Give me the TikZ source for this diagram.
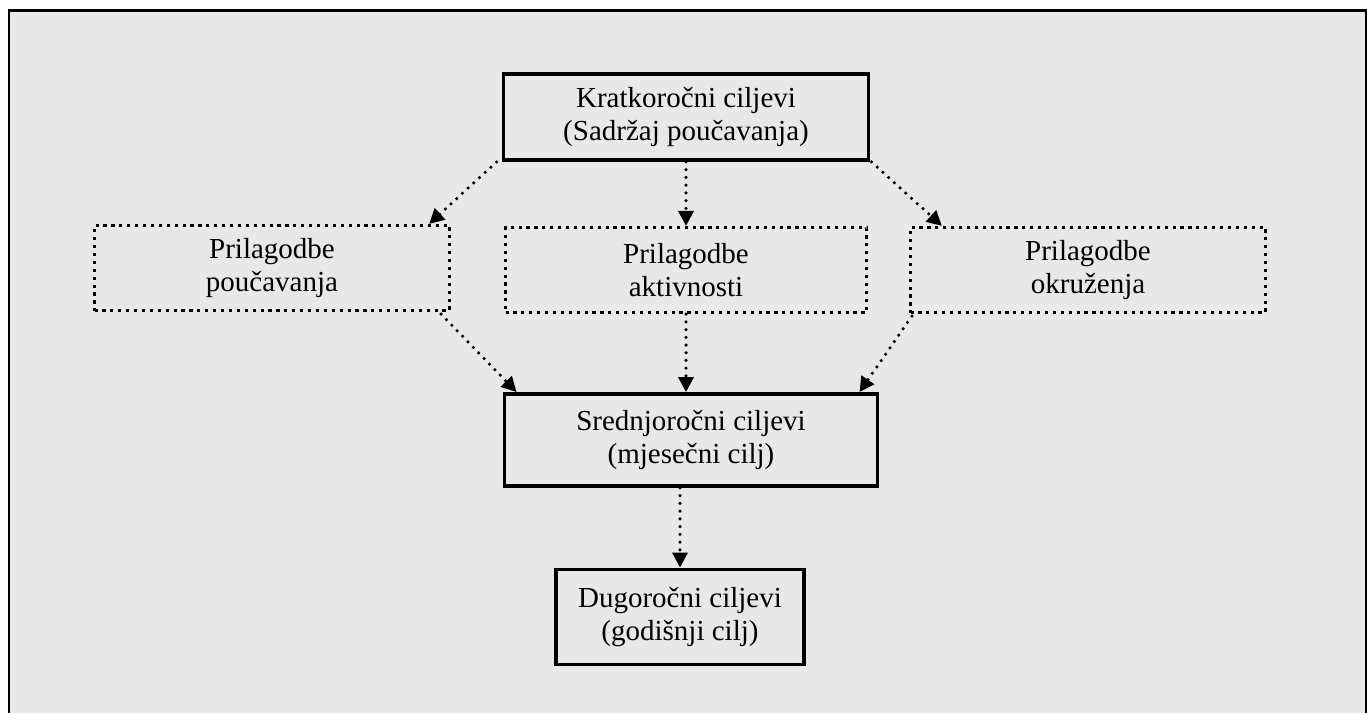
\documentclass[tikz,border=0pt]{standalone}
\usepackage{fontspec}
\setmainfont{Liberation Serif}
\usepackage{tikz}
\definecolor{panel}{RGB}{232,232,232}
\usetikzlibrary{arrows.meta}
\tikzstyle{goal} = [rectangle, line width=2.2pt, align=center, draw=black, font=\fontsize{16.5}{19}\selectfont]
\tikzstyle{adapt} = [rectangle, line width=1.8pt, dash pattern=on 1.8pt off 2.7pt, align=center, draw=black, minimum width=7.1cm, minimum height=1.7cm, font=\fontsize{16.5}{19}\selectfont]
\tikzstyle{arrow} = [line width=2pt, line cap=round, dash pattern=on 0pt off 4.4pt, -{Triangle[length=8.5pt,width=8.5pt]}, draw=black]
\begin{document}
\begin{tikzpicture}[node distance=3cm]
        \useasboundingbox (0,0) rectangle (27.34,-14.26);
        \fill[panel] (0.18,-0.21) rectangle (27.34,-14.26);
        \draw[line width=1.6pt] (0.18,-14.26) -- (0.18,-0.21) -- (27.32,-0.21) -- (27.32,-14.26);

        \node (node0) [goal, minimum width=7.3cm, minimum height=1.72cm] at (13.72,-2.34) {Kratkoročni ciljevi\\(Sadržaj poučavanja)};

        \node (node2) [adapt, below of=node0, yshift=-0.06cm, minimum width=7.22cm] {Prilagodbe\\aktivnosti};
        \node (node1) [adapt, left of=node2, xshift=-5.28cm, yshift=0.04cm] {Prilagodbe\\poučavanja};
        \node (node3) [adapt, right of=node2, xshift=5.04cm] {Prilagodbe\\okruženja};

        \node (node4) [goal, below of=node2, xshift=0.1cm, yshift=-0.4cm, minimum width=7.46cm, minimum height=1.84cm] {Srednjoročni ciljevi\\(mjesečni cilj)};
        \node (node5) [goal, below of=node4, xshift=-0.22cm, yshift=-0.54cm, minimum width=4.96cm, minimum height=1.9cm] {Dugoročni ciljevi\\(godišnji cilj)};

        \draw [arrow] ([xshift=-0.1cm]node0.south west) -- ([xshift=-0.44cm]node1.north east);
        \draw [arrow] (node0) -- (node2);
        \draw [arrow] ([xshift=0.02cm]node0.south east) -- ([xshift=0.66cm]node3.north west);
        \draw [arrow] ([xshift=-0.2cm,yshift=-0.04cm]node1.south east) -- ([xshift=0.28cm]node4.north west);
        \draw [arrow] (node2) -- (node2 |- node4.north);
        \draw [arrow] ([xshift=0.06cm,yshift=-0.04cm]node3.south west) -- ([xshift=-0.4cm]node4.north east);
        \draw [arrow] (node5 |- node4.south) -- (node5);
    \end{tikzpicture}
\end{document}
